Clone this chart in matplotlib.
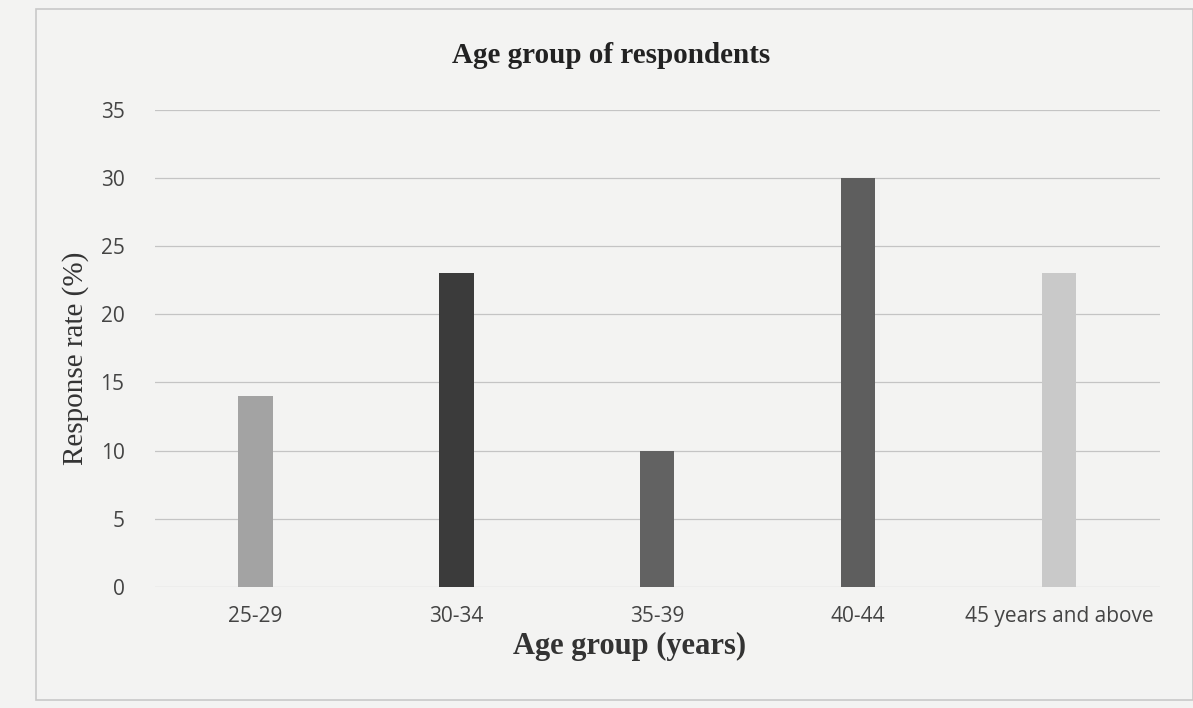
import matplotlib.pyplot as plt
from matplotlib.patches import Rectangle

# data
age_groups = ['25-29', '30-34', '35-39', '40-44', '45 years and above']
response_rate = [14, 23, 10, 30, 23]
bar_colors = ['#a3a3a3', '#3b3b3b', '#626262', '#5e5e5e', '#c9c9c9']

paper = '#f3f3f2'
fig = plt.figure(figsize=(11.93, 7.08), dpi=100, facecolor=paper)
ax = fig.add_axes([0.13, 0.171, 0.842, 0.674], facecolor=paper)

# chart frame as in the scan
fig.patches.append(Rectangle((0.03, 0.012), 0.97, 0.975, transform=fig.transFigure,
                             fill=False, edgecolor='#c8c8c8', linewidth=1.2))

x = range(len(age_groups))
ax.bar(x, response_rate, width=0.17, color=bar_colors, zorder=3)

ax.set_ylim(0, 35)
ax.set_yticks(range(0, 36, 5))
ax.set_xlim(-0.5, len(age_groups) - 0.5)
ax.set_xticks(list(x))
ax.set_xticklabels(age_groups)
ax.grid(axis='y', color='#c4c4c4', linewidth=0.9, zorder=0)
for s in ax.spines.values():
    s.set_visible(False)
ax.tick_params(axis='both', length=0, labelsize=15, labelcolor='#444444')
ax.tick_params(axis='y', pad=22)
ax.tick_params(axis='x', pad=14)
for lab in ax.get_xticklabels() + ax.get_yticklabels():
    lab.set_family('Open Sans')

fig.text(0.512, 0.922, 'Age group of respondents', family='Liberation Serif', fontsize=21,
         fontweight='bold', color='#222222', ha='center', va='center')
ax.set_ylabel('Response rate (%)', family='Liberation Serif', fontsize=21,
              color='#333333', labelpad=14)
ax.yaxis.set_label_coords(-0.066, 0.48)
ax.set_xlabel('Age group (years)', family='Liberation Serif', fontsize=22,
              fontweight='bold', color='#333333', labelpad=6)
ax.xaxis.set_label_coords(0.472, -0.095)

plt.savefig('out.png', facecolor=paper)
